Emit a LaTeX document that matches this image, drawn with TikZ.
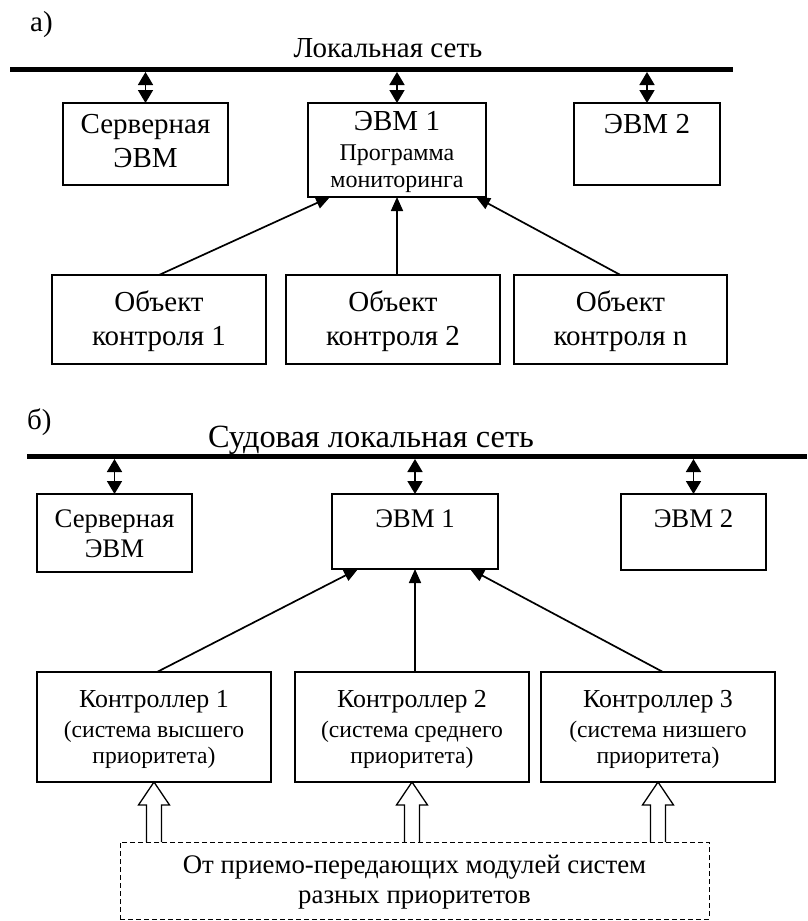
\documentclass[tikz,border=0pt]{standalone}
\usepackage{fontspec}
\setmainfont{Liberation Serif}
\usetikzlibrary{arrows.meta,calc}
\tikzset{
  box/.style={draw, rectangle, line width=1.7pt, inner sep=0pt, outer sep=0pt},
  dbox/.style={draw, rectangle, line width=1pt, dash pattern=on 5pt off 3pt, inner sep=0pt, outer sep=0pt},
  tA/.style={anchor=base, inner sep=0pt, font=\fontsize{29}{34}\selectfont},
  tS/.style={anchor=base, inner sep=0pt, font=\fontsize{24}{28}\selectfont},
  tP/.style={anchor=base, inner sep=0pt, font=\fontsize{23.6}{28}\selectfont},
  tB/.style={anchor=base, inner sep=0pt, font=\fontsize{26.8}{32}\selectfont},
  tC/.style={anchor=base, inner sep=0pt, font=\fontsize{25.9}{30}\selectfont},
  tT/.style={anchor=base, inner sep=0pt, font=\fontsize{32.4}{38}\selectfont},
  busline/.style={line width=5pt},
  busarrow/.style={line width=1.8pt, {Triangle[length=13pt,width=15pt]}-{Triangle[length=13pt,width=15pt]}},
  conn/.style={line width=1.7pt, -{Triangle[length=14pt,width=12pt]}},
  hollow/.style={line width=1.3pt, to path={let \p1=(\tikztostart), \p2=(\tikztotarget) in
    (\x1-7.5pt,\y1) -- (\x1-7.5pt,\y2-23pt) -- (\x1-15.5pt,\y2-23pt) -- (\x2,\y2)
    -- (\x1+15.5pt,\y2-23pt) -- (\x1+7.5pt,\y2-23pt) -- (\x1+7.5pt,\y1)}},
}
\begin{document}
\begin{tikzpicture}[x=1pt,y=-1pt]
\fill[white] (0,0) rectangle (807,921);
\useasboundingbox (0,0) rectangle (807,921);

% ---------- part a ----------
\node[tA, anchor=base west] (la) at (30,31) {а)};
\node[tA] (ta) at (388,57) {Локальная сеть};
\coordinate (busAL) at (10,69.5);
\coordinate (busAR) at (733,69.5);
\coordinate (busAb) at (0,72);
\draw[busline] (busAL) -- (busAR);

\node[box, minimum width=165pt, minimum height=82pt] (sa) at (145.5,144) {};
\node[box, minimum width=178pt, minimum height=94pt] (e1) at (397,150) {};
\node[box, minimum width=146pt, minimum height=82pt] (e2) at (647,144) {};

\node[tA] (sa1) at (145.5,133) {Серверная};
\node[tA] (sa2) at (145.5,167) {ЭВМ};
\node[tA] (e1a) at (397,130) {ЭВМ 1};
\node[tS] (e1b) at (397,160) {Программа};
\node[tS] (e1c) at (397,187) {мониторинга};
\node[tA] (e2a) at (647,133) {ЭВМ 2};

\draw[busarrow] (sa.north |- busAb) -- (sa.north);
\draw[busarrow] (e1.north |- busAb) -- (e1.north);
\draw[busarrow] (e2.north |- busAb) -- (e2.north);

\node[box, minimum width=214pt, minimum height=89pt] (o1) at (159,319.5) {};
\node[box, minimum width=214pt, minimum height=89pt] (o2) at (393,319.5) {};
\node[box, minimum width=213pt, minimum height=89pt] (on) at (620.5,319.5) {};

\node[tA] (o1a) at (159,311) {Объект};
\node[tA] (o1b) at (159,345) {контроля 1};
\node[tA] (o2a) at (393,311) {Объект};
\node[tA] (o2b) at (393,345) {контроля 2};
\node[tA] (ona) at (620.5,311) {Объект};
\node[tA] (onb) at (620.5,345) {контроля n};

\draw[conn] (o1.north) -- ([xshift=-67pt]e1.south);
\draw[conn] (e1.south |- o2.north) -- (e1.south);
\draw[conn] (on.north) -- ([xshift=79pt]e1.south);

% ---------- part b ----------
\node[tA, anchor=base west] (lb) at (27,429) {б)};
\node[tT] (tb) at (371,447) {Судовая локальная сеть};
\coordinate (busBL) at (27,456.5);
\coordinate (busBR) at (807,456.5);
\coordinate (busBb) at (0,459);
\draw[busline] (busBL) -- (busBR);

\node[box, minimum width=155pt, minimum height=78pt] (sb) at (114.5,533) {};
\node[box, minimum width=166pt, minimum height=75pt] (f1) at (415,531.5) {};
\node[box, minimum width=145pt, minimum height=76pt] (f2) at (693.5,532) {};

\node[tB] (sb1) at (114.5,527) {Серверная};
\node[tB] (sb2) at (114.5,557) {ЭВМ};
\node[tB] (f1a) at (415,527) {ЭВМ 1};
\node[tB] (f2a) at (693.5,527) {ЭВМ 2};

\draw[busarrow] (sb.north |- busBb) -- (sb.north);
\draw[busarrow] (f1.north |- busBb) -- (f1.north);
\draw[busarrow] (f2.north |- busBb) -- (f2.north);

\node[box, minimum width=234pt, minimum height=110pt] (k1) at (154,727) {};
\node[box, minimum width=234pt, minimum height=110pt] (k2) at (412,727) {};
\node[box, minimum width=234pt, minimum height=110pt] (k3) at (658,727) {};

\node[tC] (k1a) at (154,707) {Контроллер 1};
\node[tP] (k1b) at (154,737) {(система высшего};
\node[tP] (k1c) at (154,763) {приоритета)};
\node[tC] (k2a) at (412,707) {Контроллер 2};
\node[tP] (k2b) at (412,737) {(система среднего};
\node[tP] (k2c) at (412,763) {приоритета)};
\node[tC] (k3a) at (658,707) {Контроллер 3};
\node[tP] (k3b) at (658,737) {(система низшего};
\node[tP] (k3c) at (658,763) {приоритета)};

\draw[conn] ([xshift=3pt]k1.north) -- ([xshift=-57pt]f1.south);
\draw[conn] (f1.south |- k2.north) -- (f1.south);
\draw[conn] ([xshift=5pt]k3.north) -- ([xshift=55pt]f1.south);

\node[dbox, minimum width=589pt, minimum height=77pt] (ds) at (414.5,880.5) {};
\node[tB] (ds1) at (414.5,873) {От приемо-передающих модулей систем};
\node[tB] (ds2) at (414.5,903) {разных приоритетов};

\draw[hollow] (k1.south |- ds.north) to (k1.south);
\draw[hollow] (k2.south |- ds.north) to (k2.south);
\draw[hollow] (k3.south |- ds.north) to (k3.south);
\end{tikzpicture}
\end{document}
